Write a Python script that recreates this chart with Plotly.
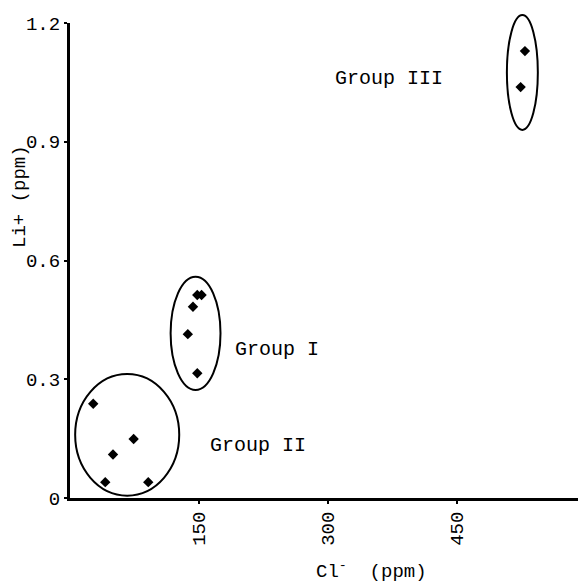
import plotly.graph_objects as go

# ---- data ----
group_i_cl = [148, 153, 143, 137, 148]
group_i_li = [0.513, 0.513, 0.483, 0.414, 0.315]

group_ii_cl = [27, 50, 74, 41, 91]
group_ii_li = [0.238, 0.110, 0.149, 0.040, 0.040]

group_iii_cl = [529, 524]
group_iii_li = [1.129, 1.038]

x_ticks = [150, 300, 450, 600]
y_ticks = [0, 0.3, 0.6, 0.9, 1.2]
y_tick_text = ["0", "0.3", "0.6", "0.9", "1.2"]

# ellipse extents (Cl- x0, x1, Li+ y0, y1)
ellipse_i = [117, 175, 0.273, 0.559]
ellipse_ii = [6, 127, 0.006, 0.313]
ellipse_iii = [508, 544, 0.93, 1.22]

labels = ["Group I", "Group II", "Group III"]
label_x = [190, 161, 306]
label_y = [0.376, 0.132, 1.061]

FONT = "Liberation Mono, Courier New, monospace"
Y_MAX = 1.2

# page body has an 8px default margin, so the figure is sized/offset to compensate
OFF = 8
W, H = 586 - OFF, 583 - OFF
L, R, T, B = 70 - OFF, 0, 23 - OFF, 85
pw, ph = W - L - R, H - T - B

fig = go.Figure()
for xs, ys in [(group_i_cl, group_i_li), (group_ii_cl, group_ii_li), (group_iii_cl, group_iii_li)]:
    fig.add_trace(go.Scatter(x=xs, y=ys, mode="markers",
                             marker=dict(symbol="diamond", size=8, color="black"),
                             showlegend=False, cliponaxis=False))

for e in [ellipse_i, ellipse_ii, ellipse_iii]:
    fig.add_shape(type="circle", xref="x", yref="paper", x0=e[0], x1=e[1],
                  y0=e[2] / Y_MAX, y1=e[3] / Y_MAX,
                  line=dict(color="black", width=2))

for t, lx, ly in zip(labels, label_x, label_y):
    fig.add_annotation(x=lx, y=ly, xref="x", yref="y", text=t, showarrow=False,
                       xanchor="left", yanchor="middle",
                       font=dict(family=FONT, size=20, color="black"))

# positions given in page pixels of the reference
def px_to_paper(px, py):
    return (px - OFF - L) / pw, (H - B - (py - OFF)) / ph

tx, ty = px_to_paper(371, 570)
fig.add_annotation(x=tx, y=ty, xref="paper", yref="paper",
                   text="Cl<sup>-</sup>\u00a0 (ppm)",
                   showarrow=False, xanchor="center", yanchor="middle",
                   font=dict(family=FONT, size=19, color="black"))
tx, ty = px_to_paper(20, 197)
fig.add_annotation(x=tx, y=ty, xref="paper", yref="paper",
                   text="Li+ (ppm)", showarrow=False, textangle=-90,
                   xanchor="center", yanchor="middle",
                   font=dict(family=FONT, size=19, color="black"))

fig.update_layout(
    width=W, height=H,
    margin=dict(l=L, r=R, t=T, b=B, autoexpand=False),
    paper_bgcolor="white", plot_bgcolor="white",
    xaxis=dict(range=[0, 600], tickvals=x_ticks, ticktext=[str(v) for v in x_ticks],
               tickangle=-90, showgrid=False, zeroline=False, showline=True, automargin=False,
               ticklabeloverflow="allow",
               linecolor="black", linewidth=3, ticks="outside", ticklen=3, tickwidth=2,
               tickcolor="black", tickfont=dict(family=FONT, size=19, color="black")),
    yaxis=dict(range=[0, Y_MAX], tickvals=y_ticks, ticktext=y_tick_text,
               showgrid=False, zeroline=False, showline=True, automargin=False,
               ticklabeloverflow="allow",
               linecolor="black", linewidth=3, ticks="outside", ticklen=3, tickwidth=2,
               tickcolor="black", ticklabelstandoff=0,
               tickfont=dict(family=FONT, size=19, color="black")),
)

fig.write_html("out.html")
